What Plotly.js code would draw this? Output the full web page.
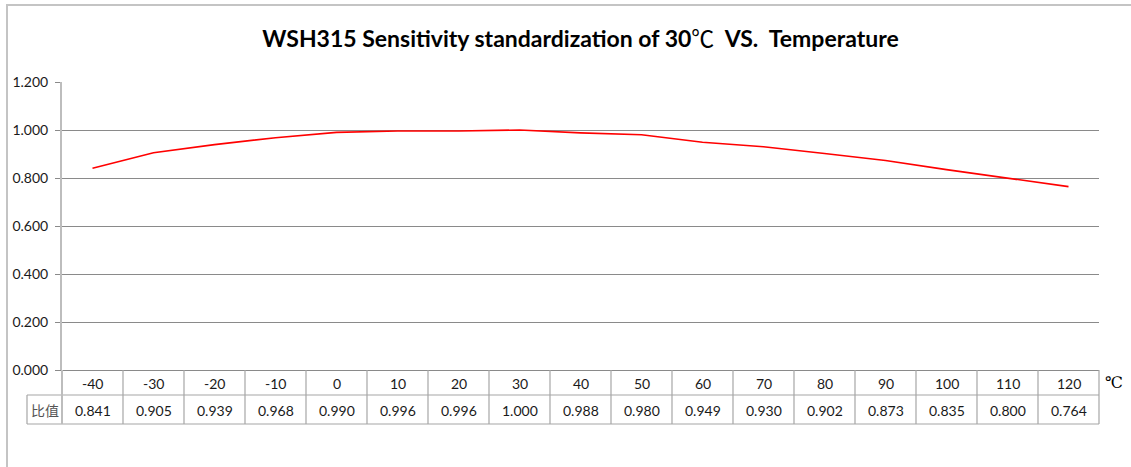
<!DOCTYPE html>
<html>
<head>
<meta charset="utf-8">
<script src="https://cdn.plot.ly/plotly-3.0.1.min.js"></script>
<style>
  html, body { margin: 0; padding: 0; background: #fff; }
  #wrap { position: relative; width: 1131px; height: 467px; overflow: hidden; }
  #frame { position: absolute; left: 6px; top: 4px; width: 1200px; height: 600px;
           border-top: 2px solid #c4c4c4; border-left: 2px solid #c4c4c4; pointer-events: none; }
  #chart { position: absolute; left: 0; top: 0; width: 1131px; height: 467px; }
</style>
</head>
<body>
<div id="wrap">
  <div id="chart"></div>
  <div id="frame"></div>
</div>
<script>
// ---- data ----
const temperatures = ["-40","-30","-20","-10","0","10","20","30","40","50","60","70","80","90","100","110","120"];
const ratios = [0.841,0.905,0.939,0.968,0.990,0.996,0.996,1.000,0.988,0.980,0.949,0.930,0.902,0.873,0.835,0.800,0.764];
const yTicks = [0, 0.2, 0.4, 0.6, 0.8, 1.0, 1.2];
const rowLabel = "比值";
const unitLabel = "℃";
const titleParts = ["WSH315 Sensitivity standardization of 30", "℃", "  VS.  Temperature"];

// ---- layout helpers (pixel geometry of the plot box) ----
const W = 1131, H = 467;
const M = { l: 62, r: 32, t: 82, b: 97 };
const plotH = H - M.t - M.b;      // 288
const plotW = W - M.l - M.r;      // 1037
const py = px => -px / plotH;     // pixels below the x axis -> paper y
const pxX = px => px / plotW;     // pixels -> paper x

const font = "Lato, 'Open Sans', sans-serif";
const gridCol = "#8a8a8a";
const tableCol = "#a6a6a6";

const n = temperatures.length;
const shapes = [];
const annotations = [];

// horizontal table lines
[25, 54].forEach(d => {
  shapes.push({ type: "line", xref: "paper", yref: "paper",
    x0: d === 25 ? pxX(-35) : 0, x1: 1, y0: py(d), y1: py(d),
    line: { color: tableCol, width: 1.2 } });
});
shapes.push({ type: "line", xref: "paper", yref: "paper",
  x0: pxX(-35), x1: 0, y0: py(54), y1: py(54), line: { color: tableCol, width: 1.2 } });
// vertical table lines on category boundaries
for (let i = 0; i <= n; i++) {
  const xp = i / n;
  shapes.push({ type: "line", xref: "paper", yref: "paper",
    x0: xp, x1: xp, y0: 0, y1: py(54),
    line: { color: i === 0 ? "#bdbdbd" : tableCol, width: i === 0 ? 2 : 1.2 } });
}
// row label cell left border
shapes.push({ type: "line", xref: "paper", yref: "paper",
  x0: pxX(-35), x1: pxX(-35), y0: py(25), y1: py(54),
  line: { color: tableCol, width: 1.2 } });

// table texts (x given as category index)
temperatures.forEach((t, i) => {
  annotations.push({ x: i, xref: "x", yref: "paper", y: py(13), text: t,
    showarrow: false, xanchor: "center", yanchor: "middle",
    font: { family: font, size: 14, color: "#1a1a1a" } });
  annotations.push({ x: i, xref: "x", yref: "paper", y: py(40), text: ratios[i].toFixed(3),
    showarrow: false, xanchor: "center", yanchor: "middle",
    font: { family: font, size: 14, color: "#1a1a1a" } });
});
annotations.push({ xref: "paper", yref: "paper", x: pxX(-17.5), y: py(40), text: rowLabel,
  showarrow: false, xanchor: "center", yanchor: "middle",
  font: { family: "'Noto Sans CJK SC', sans-serif", size: 14, color: "#555" } });
annotations.push({ xref: "paper", yref: "paper", x: pxX(1114 - 62), y: py(12), text: unitLabel,
  showarrow: false, xanchor: "center", yanchor: "middle",
  font: { family: "'DejaVu Serif', 'Liberation Serif', serif", size: 16, color: "#000" } });

const trace = {
  type: "scatter", mode: "lines",
  x: temperatures, y: ratios,
  line: { color: "#ff0000", width: 1.6 },
  hoverinfo: "skip"
};

const titleHtml = "<b>" + titleParts[0] + "</b>" +
  "<span style='font-family:Noto Sans CJK SC;font-weight:normal'>" + titleParts[1] + "</span>" +
  "<b>" + titleParts[2] + "</b>";

const layout = {
  width: W, height: H,
  margin: M,
  paper_bgcolor: "rgba(0,0,0,0)", plot_bgcolor: "#fff",
  showlegend: false,
  title: { text: titleHtml, x: 0.5, xref: "paper", xanchor: "center",
    y: 1 - 39 / H, yref: "container", yanchor: "middle",
    font: { family: font, size: 23, color: "#000" } },
  xaxis: {
    type: "category", range: [-0.5, n - 0.5],
    showticklabels: false, ticks: "", showgrid: false, zeroline: false,
    showline: true, linecolor: gridCol, linewidth: 1
  },
  yaxis: {
    range: [0, 1.2], tickvals: yTicks, tickformat: ".3f",
    ticks: "outside", ticklen: 5, tickcolor: gridCol, tickwidth: 1,
    showgrid: true, gridcolor: gridCol, gridwidth: 1, zeroline: false,
    showline: true, linecolor: "#bdbdbd", linewidth: 2,
    tickfont: { family: font, size: 14, color: "#1a1a1a" }, ticklabelstandoff: 4
  },
  shapes: shapes,
  annotations: annotations
};

Plotly.newPlot("chart", [trace], layout, { staticPlot: true, displayModeBar: false });
</script>
</body>
</html>
